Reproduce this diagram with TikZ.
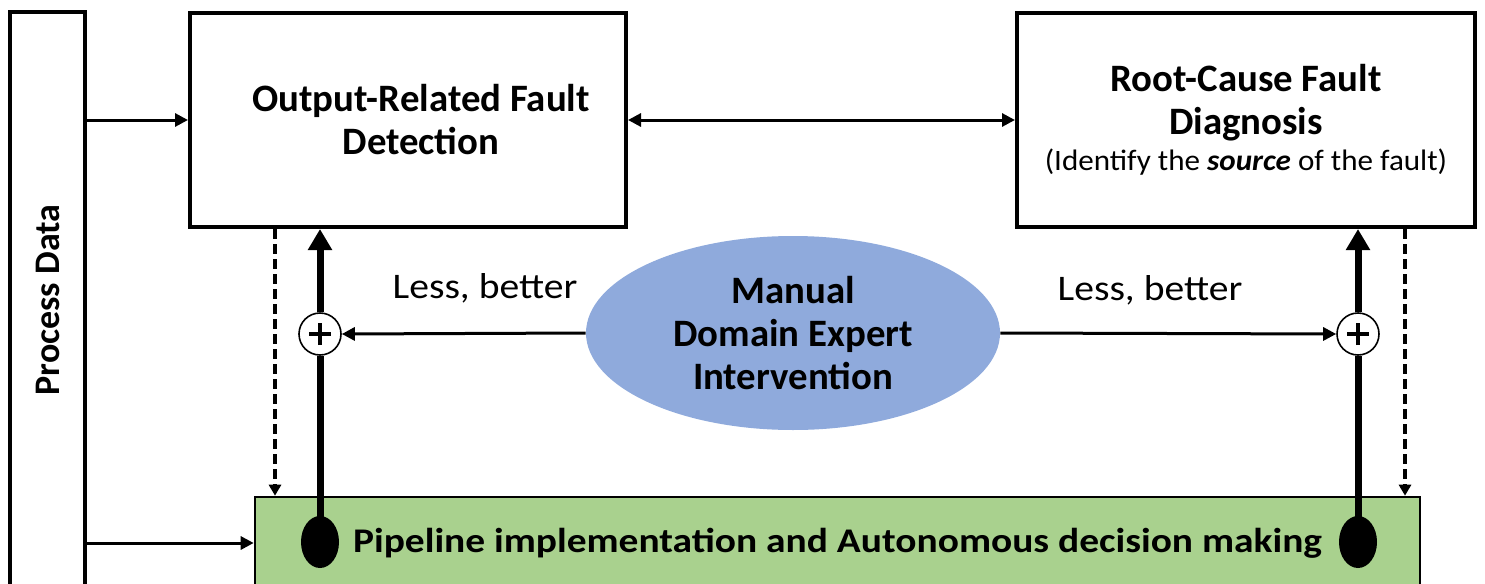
\documentclass[tikz,border=0pt]{standalone}
\usepackage{graphicx}
\usepackage{fontspec}
\setmainfont{Carlito}
\usetikzlibrary{arrows.meta,shapes.geometric}
\definecolor{pipegreen}{HTML}{A9D18E}
\definecolor{expertblue}{HTML}{8FAADC}
\newcommand{\wide}[2]{\scalebox{#1}[1]{#2}}
\begin{document}
\begin{tikzpicture}[x=0.5pt,y=-0.5pt,
  blockbox/.style={draw, line width=2pt, inner sep=0pt, align=center,
    font=\fontsize{19.4}{21.5}\selectfont\bfseries},
  thinarrow/.style={line width=1.5pt, -{Triangle[length=6.5pt,width=6.5pt]}},
  thinboth/.style={line width=1.5pt, {Triangle[length=6.5pt,width=6.5pt]}-{Triangle[length=6.5pt,width=6.5pt]}},
  dasharrow/.style={line width=2.2pt, dash pattern=on 5pt off 2.5pt,
    -{Triangle[length=5.5pt,width=6pt]}},
  thickline/.style={line width=3.5pt},
  thickarrow/.style={line width=3.5pt, -{Triangle[length=10.5pt,width=11.5pt]}},
  sumnode/.style={circle, draw, line width=0.8pt, fill=white, minimum size=21pt, inner sep=0pt},
  blobnode/.style={ellipse, fill=black, minimum width=19pt, minimum height=26pt, inner sep=0pt},
  lesslabel/.style={font=\fontsize{18}{21}\selectfont}]
\useasboundingbox (0,0) rectangle (1485,584);
\clip (0,0) rectangle (1485,584);

% process data column (runs off the bottom edge)
\node[blockbox, minimum width=37.5pt, minimum height=288pt] (proc) at (47.5,300) {};
\node[rotate=90, font=\fontsize{18}{20}\selectfont\bfseries] (proclbl) at (proc.center) {Process Data};

% detection and diagnosis blocks
\node[blockbox, minimum width=218pt, minimum height=107pt] (orfd) at (408,120) {};
\node[align=center, inner sep=0pt, font=\fontsize{19.4}{21.5}\selectfont\bfseries,
  xshift=6.5pt] (orfdlbl) at (orfd.center) {Output-Related Fault\\Detection};
\node[blockbox, minimum width=229pt, minimum height=107pt] (rcfd) at (1246,120)
  {Root-Cause Fault\\Diagnosis\\[-3.5pt]{\normalfont\fontsize{14.8}{17}\selectfont
   \wide{1.05}{(Identify the \textbf{\textit{source}} of the fault)}}};

% pipeline block (runs off the bottom edge)
\node[draw, line width=1.3pt, fill=pipegreen, minimum width=582.5pt, minimum height=46pt,
  inner sep=0pt, font=\fontsize{17.3}{21}\selectfont\bfseries] (pipe) at (837.5,543)
  {\wide{1.14}{Pipeline implementation and Autonomous decision making}};

% expert intervention
\node[ellipse, fill=expertblue, minimum width=207pt, minimum height=97pt, inner sep=0pt,
  align=center, font=\fontsize{19.4}{21.5}\selectfont\bfseries] (expert) at (793,333)
  {Manual\\Domain Expert\\Intervention};

% summing junctions and pick-off blobs
\node[sumnode] (plusL) at (320,334) {};
\node[sumnode] (plusR) at (1358,334) {};
\node[blobnode] (blobL) at (320,542) {};
\node[blobnode] (blobR) at (1358,542) {};

\foreach \p in {plusL,plusR}{
  \draw[line width=2.2pt] ([xshift=-5.5pt]\p.center) -- ([xshift=5.5pt]\p.center);
  \draw[line width=2.2pt] ([yshift=-5.5pt]\p.center) -- ([yshift=5.5pt]\p.center);
}

% data feeds
\draw[thinarrow] (proc.east |- orfd.west) -- (orfd.west);
\draw[thinarrow] (proc.east |- pipe.west) -- (pipe.west);
\draw[thinboth] (orfd.east) -- (rcfd.west);

% feedback paths
\draw[thickline] (blobL.center) -- (plusL.south);
\draw[thickarrow] (plusL.north) -- (plusL |- orfd.south);
\draw[thickline] (blobR.center) -- (plusR.south);
\draw[thickarrow] (plusR.north) -- (plusR |- rcfd.south);

% expert inputs
\draw[thinarrow] (expert.west) -- (plusL.east);
\draw[thinarrow] (expert.east) -- (plusR.west);
\node[lesslabel] (lessL) at (485,288) {\wide{1.1}{Less, better}};
\node[lesslabel] (lessR) at (1150,290) {\wide{1.1}{Less, better}};

% dashed hand-offs to the pipeline
\coordinate (dL) at (275,0);
\coordinate (dR) at (1405,0);
\draw[dasharrow] (orfd.south -| dL) -- (pipe.north -| dL);
\draw[dasharrow] (rcfd.south -| dR) -- (pipe.north -| dR);
\end{tikzpicture}
\end{document}
